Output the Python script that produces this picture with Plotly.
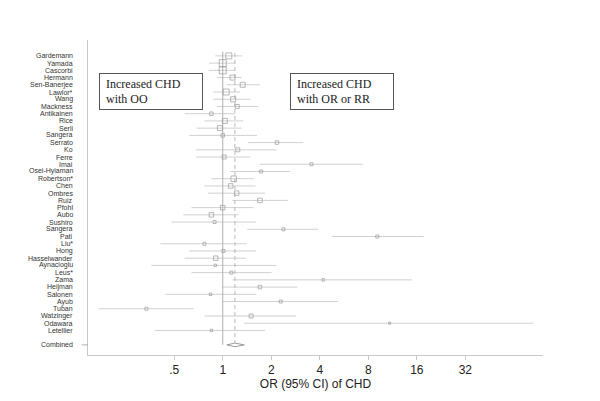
import plotly.graph_objects as go

studies = ["Gardemann", "Yamada", "Cascorbi", "Hermann", "Sen-Banerjee", "Lawlor*", "Wang",
           "Mackness", "Antikainen", "Rice", "Serli", "Sangera", "Serrato", "Ko", "Ferre", "Imai",
           "Osei-Hyiaman", "Robertson*", "Chen", "Ombres", "Ruiz", "Pfohl", "Aubo", "Sushiro",
           "Sangera", "Pati", "Liu*", "Hong", "Hasselwander", "Aynacioglu", "Leus*", "Zama",
           "Heijman", "Salonen", "Ayub", "Tuban", "Watzinger", "Odawara", "Letellier"]
or_est = [1.09, 1.00, 1.00, 1.15, 1.33, 1.05, 1.16, 1.23, 0.85, 1.03, 0.96, 1.00, 2.17, 1.24,
          1.02, 3.55, 1.73, 1.17, 1.12, 1.22, 1.70, 1.00, 0.85, 0.89, 2.38, 9.1, 0.77, 1.01,
          0.905, 0.90, 1.13, 4.2, 1.70, 0.84, 2.29, 0.336, 1.50, 10.85, 0.85]
ci_low = [0.90, 0.82, 0.82, 0.92, 1.06, 0.87, 0.87, 0.92, 0.58, 0.77, 0.69, 0.62, 1.44, 0.68,
          0.68, 1.70, 1.11, 0.85, 0.77, 0.81, 1.15, 0.64, 0.57, 0.48, 1.42, 4.75, 0.41, 0.62,
          0.58, 0.36, 0.64, 1.15, 0.99, 0.44, 1.00, 0.17, 0.77, 1.36, 0.38]
ci_high = [1.32, 1.19, 1.19, 1.31, 1.70, 1.28, 1.48, 1.66, 1.19, 1.34, 1.31, 1.63, 3.16, 2.16,
           1.48, 7.4, 2.62, 1.56, 1.60, 1.83, 2.53, 1.55, 1.25, 1.61, 3.92, 17.6, 1.41, 1.61,
           1.39, 2.16, 2.01, 14.9, 2.9, 1.61, 5.2, 0.66, 2.85, 84.5, 1.83]
weights = [6, 7, 7, 5, 5, 6, 5, 4, 3.5, 5, 5, 3.5, 3.5, 4, 4, 3, 3, 5.5, 4.5, 4.5, 4.5, 4.5,
           4.5, 3, 3, 3, 3, 3, 4.5, 2.5, 3, 2.5, 3.5, 2.5, 3, 3, 4, 2, 2.5]
combined_label = "Combined"
combined_or = 1.19
combined_low = 1.06
combined_high = 1.36
xtick_vals = [0.5, 1, 2, 4, 8, 16, 32]
xtick_text = [".5", "1", "2", "4", "8", "16", "32"]

ys = list(range(len(studies)))
y_comb = len(studies) + 1

fig = go.Figure()

# CI lines
lx, ly = [], []
for i, (lo, hi) in enumerate(zip(ci_low, ci_high)):
    lx += [lo, hi, None]
    ly += [i, i, None]
fig.add_trace(go.Scatter(x=lx, y=ly, mode="lines", line=dict(color="#d0d0d0", width=1),
                         hoverinfo="skip", showlegend=False))

# reference lines
fig.add_trace(go.Scatter(x=[1, 1], y=[-0.6, y_comb], mode="lines",
                         line=dict(color="#b0b0b0", width=1), showlegend=False))
fig.add_trace(go.Scatter(x=[combined_or, combined_or], y=[-0.4, y_comb - 0.3], mode="lines",
                         line=dict(color="#b8b8b8", width=1, dash="4px,3px"), showlegend=False))

# point estimates
fig.add_trace(go.Scatter(x=or_est, y=ys, mode="markers",
                         marker=dict(symbol="square-open", size=weights, color="#9a9a9a",
                                     line=dict(width=1, color="#9a9a9a")),
                         showlegend=False))

# combined diamond
fig.add_trace(go.Scatter(x=[combined_low, combined_or, combined_high, combined_or, combined_low],
                         y=[y_comb, y_comb - 0.25, y_comb, y_comb + 0.25, y_comb],
                         mode="lines", line=dict(color="#9a9a9a", width=1), showlegend=False))

# study labels
lab_font = dict(family="Liberation Sans, Arial", size=7, color="#333")
for i, name in enumerate(studies):
    fig.add_annotation(x=-0.029, xref="paper", y=i, yref="y", text=name, showarrow=False,
                       xanchor="right", yanchor="middle", font=lab_font)
fig.add_annotation(x=-0.029, xref="paper", y=y_comb, yref="y", text=combined_label,
                   showarrow=False, xanchor="right", yanchor="middle", font=lab_font)
fig.add_shape(type="line", xref="paper", yref="y", x0=-0.014, x1=0, y0=y_comb, y1=y_comb,
              line=dict(color="#b0b0b0", width=1))

# boxes
box_font = dict(family="Liberation Serif, Times New Roman", size=12, color="#222")
fig.add_annotation(x=0.024, xref="paper", y=0.896, yref="paper",
                   text="Increased CHD  <br>with QQ", showarrow=False, align="left",
                   xanchor="left", yanchor="top", font=box_font,
                   bordercolor="#555", borderwidth=1, borderpad=6, width=90, height=23)
fig.add_annotation(x=0.444, xref="paper", y=0.896, yref="paper",
                   text="Increased CHD<br>with QR or RR", showarrow=False, align="left",
                   xanchor="left", yanchor="top", font=box_font,
                   bordercolor="#555", borderwidth=1, borderpad=6, width=90, height=23)

fig.update_layout(
    width=592, height=393,
    margin=dict(l=80, r=57, t=32, b=43),
    paper_bgcolor="white", plot_bgcolor="white",
    xaxis=dict(type="log", range=[-0.836, 1.987], tickvals=xtick_vals, ticktext=xtick_text,
               showgrid=False, zeroline=False, showline=True, linecolor="#c8c8c8",
               ticks="outside", ticklen=4, tickcolor="#c8c8c8",
               tickfont=dict(family="Liberation Sans, Arial", size=12, color="#222"),
               title=dict(text="OR (95% CI) of CHD", standoff=3,
                          font=dict(family="Liberation Sans, Arial", size=12, color="#222"))),
    yaxis=dict(range=[41.4, -2.2], showticklabels=False, showgrid=False, zeroline=False,
               showline=True, linecolor="#c8c8c8", ticks=""),
)

fig.write_html("out.html")
